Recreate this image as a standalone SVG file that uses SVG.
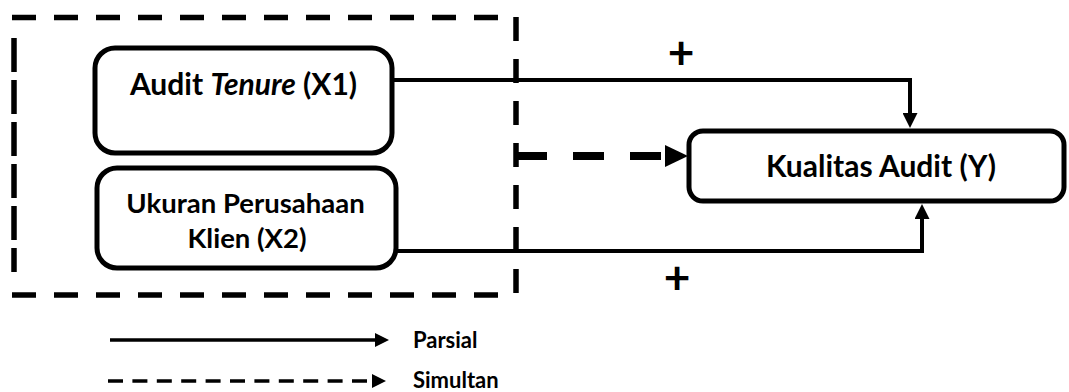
<svg xmlns="http://www.w3.org/2000/svg" width="1069" height="392" viewBox="0 0 1069 392">
  <style>
    .box { fill: #ffffff; stroke: #000000; stroke-width: 5; }
    .lbl { font-family: Lato, "Open Sans", "Liberation Sans", sans-serif; font-weight: 700; fill: #000000; }
    .node { font-size: 30px; text-anchor: middle; }
    .node-sm { font-size: 27.5px; text-anchor: middle; }
    .plus { font-size: 46px; text-anchor: middle; }
    .legend { font-size: 22px; }
    .frame { fill: none; stroke: #000000; stroke-width: 5.5; }
    .link { fill: none; stroke: #000000; stroke-width: 4; }
    .joint { fill: none; stroke: #000000; stroke-width: 8; stroke-dasharray: 31 26; }
    .key { fill: none; stroke: #000000; stroke-width: 3.5; }
  </style>
  <defs>
    <marker id="head" viewBox="0 0 15 15" refX="0" refY="7.5" markerWidth="15" markerHeight="15" markerUnits="userSpaceOnUse" orient="auto">
      <path d="M0,0 L15,7.5 L0,15 Z" fill="#000000"/>
    </marker>
    <marker id="head-big" viewBox="0 0 27 22" refX="0" refY="11" markerWidth="27" markerHeight="22" markerUnits="userSpaceOnUse" orient="auto">
      <path d="M4,0 L27,11 L4,22 Z" fill="#000000"/>
    </marker>
    <marker id="head-sm" viewBox="0 0 14 14" refX="0" refY="7" markerWidth="14" markerHeight="14" markerUnits="userSpaceOnUse" orient="auto">
      <path d="M0,0 L14,7 L0,14 Z" fill="#000000"/>
    </marker>
  </defs>

  <!-- dashed frame around the independent variables -->
  <g id="frame">
    <path class="frame" d="M12,17.5 H498" stroke-dasharray="24 18"/>
    <path class="frame" d="M12,295 H500" stroke-dasharray="24 18"/>
    <path class="frame" d="M14,38 V272" stroke-dasharray="34 8"/>
    <path class="frame" d="M516,17 V294" stroke-dasharray="24 18"/>
  </g>

  <!-- connectors -->
  <g id="connectors">
    <path class="link" d="M392,80 H910 V113" marker-end="url(#head)"/>
    <path class="link" d="M396,251 H922 V219" marker-end="url(#head)"/>
    <path class="joint" d="M516,156 H661" marker-end="url(#head-big)"/>
  </g>

  <g id="x1">
    <rect class="box" x="95" y="48" width="297" height="105" rx="20"/>
    <text class="lbl node" x="243.5" y="95">Audit <tspan font-style="italic">Tenure</tspan> (X1)</text>
  </g>

  <g id="x2">
    <rect class="box" x="97" y="168" width="299" height="100" rx="20"/>
    <text class="lbl node-sm" x="245.5" y="213">Ukuran Perusahaan</text>
    <text class="lbl node-sm" x="247" y="248">Klien (X2)</text>
  </g>

  <g id="y">
    <rect class="box" x="689" y="131" width="375" height="70" rx="14"/>
    <text class="lbl node" x="881" y="177">Kualitas Audit (Y)</text>
  </g>

  <g id="signs">
    <text class="lbl plus" x="681" y="69">+</text>
    <text class="lbl plus" x="677" y="294">+</text>
  </g>

  <g id="legend">
    <path class="key" d="M110,340 H375" marker-end="url(#head-sm)"/>
    <text class="lbl legend" x="413" y="348">Parsial</text>
    <path class="key" d="M108,381 H372" stroke-dasharray="15 9.4" marker-end="url(#head-sm)"/>
    <text class="lbl legend" x="413" y="388">Simultan</text>
  </g>
</svg>
